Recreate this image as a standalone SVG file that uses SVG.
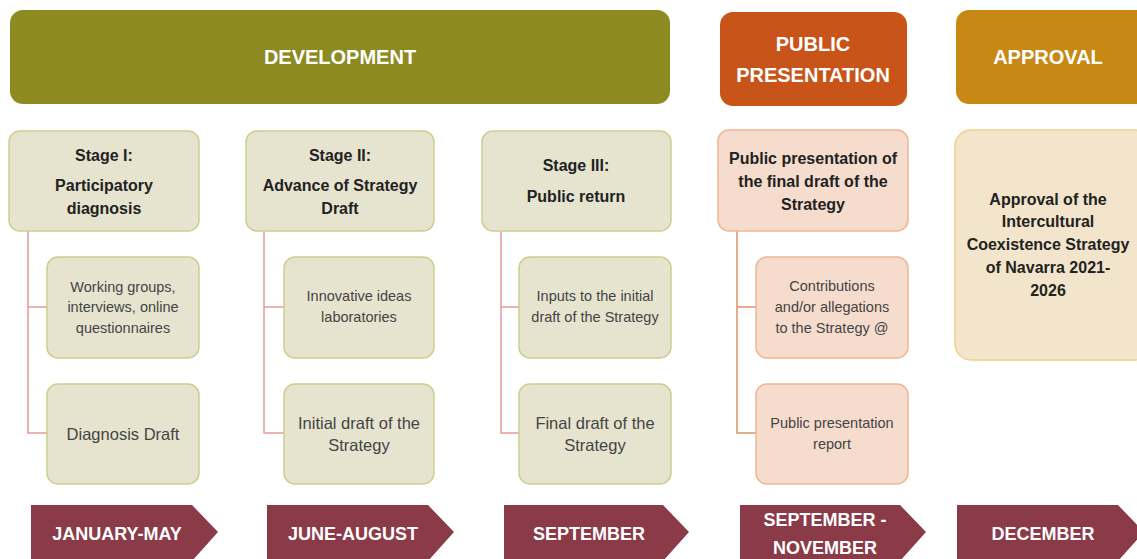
<svg xmlns="http://www.w3.org/2000/svg" width="1137" height="559" viewBox="0 0 1137 559">
  <style>
    text { font-family: "Liberation Sans", Arial, sans-serif; text-anchor: middle; }
    .hdr { fill: #ffffff; font-weight: bold; font-size: 20px; }
    .stagebox { fill: #e6e4cf; stroke: #cfcd8e; stroke-width: 1.5; }
    .pubbox { fill: #f6dccd; stroke: #f0b592; stroke-width: 1.5; }
    .appbox { fill: #f3e5cb; stroke: #f0d08a; stroke-width: 1.5; }
    .title { fill: #222222; font-weight: bold; font-size: 16px; }
    .item { fill: #444444; font-size: 14.5px; }
    .item-lg { fill: #444444; font-size: 16.5px; }
    .month { fill: #8b3a47; }
    .mtext { fill: #ffffff; font-weight: bold; font-size: 18px; }
    .conn { fill: none; stroke-width: 1.5; }
  </style>

  <!-- phase banners -->
  <g id="phase-development">
    <rect x="10" y="10" width="660" height="94" rx="13" fill="#8c8a20"/>
    <text class="hdr" x="340" y="64">DEVELOPMENT</text>
  </g>
  <g id="phase-public">
    <rect x="720" y="12" width="187" height="94" rx="13" fill="#c8541a"/>
    <text class="hdr" x="813" y="51">PUBLIC</text>
    <text class="hdr" x="813" y="82">PRESENTATION</text>
  </g>
  <g id="phase-approval">
    <rect x="956" y="10" width="195" height="94" rx="13" fill="#c78914"/>
    <text class="hdr" x="1048" y="64">APPROVAL</text>
  </g>

  <!-- connectors from stage boxes to their activities -->
  <g id="connectors">
    <path class="conn" stroke="#e79a9a" d="M28 231 V433 H47 M28 307 H47"/>
    <path class="conn" stroke="#e79a9a" d="M264 231 V433 H284 M264 307 H284"/>
    <path class="conn" stroke="#e79a9a" d="M501 231 V433 H519 M501 307 H519"/>
    <path class="conn" stroke="#e0906a" d="M737 231 V433 H756 M737 307 H756"/>
  </g>

  <!-- Stage I -->
  <g id="stage1">
    <rect class="stagebox" x="9" y="131" width="190" height="100" rx="11"/>
    <text class="title" x="104" y="161">Stage I:</text>
    <text class="title" x="104" y="191">Participatory</text>
    <text class="title" x="104" y="214">diagnosis</text>
  </g>
  <g id="stage1-groups">
    <rect class="stagebox" x="47" y="257" width="152" height="101" rx="11"/>
    <text class="item" x="123" y="292">Working groups,</text>
    <text class="item" x="123" y="312">interviews, online</text>
    <text class="item" x="123" y="333">questionnaires</text>
  </g>
  <g id="stage1-draft">
    <rect class="stagebox" x="47" y="384" width="152" height="100" rx="11"/>
    <text class="item-lg" x="123" y="440">Diagnosis Draft</text>
  </g>

  <!-- Stage II -->
  <g id="stage2">
    <rect class="stagebox" x="246" y="131" width="188" height="100" rx="11"/>
    <text class="title" x="340" y="161">Stage II:</text>
    <text class="title" x="340" y="191">Advance of Strategy</text>
    <text class="title" x="340" y="214">Draft</text>
  </g>
  <g id="stage2-labs">
    <rect class="stagebox" x="284" y="257" width="150" height="101" rx="11"/>
    <text class="item" x="359" y="301">Innovative ideas</text>
    <text class="item" x="359" y="322">laboratories</text>
  </g>
  <g id="stage2-draft">
    <rect class="stagebox" x="284" y="384" width="150" height="100" rx="11"/>
    <text class="item-lg" x="359" y="429">Initial draft of the</text>
    <text class="item-lg" x="359" y="451">Strategy</text>
  </g>

  <!-- Stage III -->
  <g id="stage3">
    <rect class="stagebox" x="482" y="131" width="189" height="100" rx="11"/>
    <text class="title" x="576" y="171">Stage III:</text>
    <text class="title" x="576" y="202">Public return</text>
  </g>
  <g id="stage3-inputs">
    <rect class="stagebox" x="519" y="257" width="152" height="101" rx="11"/>
    <text class="item" x="595" y="301">Inputs to the initial</text>
    <text class="item" x="595" y="322">draft of the Strategy</text>
  </g>
  <g id="stage3-draft">
    <rect class="stagebox" x="519" y="384" width="152" height="100" rx="11"/>
    <text class="item-lg" x="595" y="429">Final draft of the</text>
    <text class="item-lg" x="595" y="451">Strategy</text>
  </g>

  <!-- Public presentation -->
  <g id="public">
    <rect class="pubbox" x="718" y="130" width="190" height="101" rx="11"/>
    <text class="title" x="813" y="164">Public presentation of</text>
    <text class="title" x="813" y="187">the final draft of the</text>
    <text class="title" x="813" y="210">Strategy</text>
  </g>
  <g id="public-contrib">
    <rect class="pubbox" x="756" y="257" width="152" height="101" rx="11"/>
    <text class="item" x="832" y="291">Contributions</text>
    <text class="item" x="832" y="312">and/or allegations</text>
    <text class="item" x="832" y="333">to the Strategy @</text>
  </g>
  <g id="public-report">
    <rect class="pubbox" x="756" y="384" width="152" height="100" rx="11"/>
    <text class="item" x="832" y="428">Public presentation</text>
    <text class="item" x="832" y="449">report</text>
  </g>

  <!-- Approval -->
  <g id="approval">
    <rect class="appbox" x="955" y="130" width="195" height="230" rx="16"/>
    <text class="title" x="1048" y="205">Approval of the</text>
    <text class="title" x="1048" y="227">Intercultural</text>
    <text class="title" x="1048" y="250">Coexistence Strategy</text>
    <text class="title" x="1048" y="273">of Navarra 2021-</text>
    <text class="title" x="1048" y="296">2026</text>
  </g>

  <!-- timeline tags -->
  <g id="month-jan-may">
    <polygon class="month" points="31,505 192,505 218,532 192,561 31,561"/>
    <text class="mtext" x="117" y="540">JANUARY-MAY</text>
  </g>
  <g id="month-jun-aug">
    <polygon class="month" points="267,505 428,505 454,532 428,561 267,561"/>
    <text class="mtext" x="353" y="540">JUNE-AUGUST</text>
  </g>
  <g id="month-sep">
    <polygon class="month" points="504,505 663,505 689,532 663,561 504,561"/>
    <text class="mtext" x="589" y="540">SEPTEMBER</text>
  </g>
  <g id="month-sep-nov">
    <polygon class="month" points="740,505 900,505 926,532 900,561 740,561"/>
    <text class="mtext" x="825" y="526">SEPTEMBER -</text>
    <text class="mtext" x="825" y="554">NOVEMBER</text>
  </g>
  <g id="month-dec">
    <polygon class="month" points="957,505 1118,505 1144,532 1118,561 957,561"/>
    <text class="mtext" x="1043" y="540">DECEMBER</text>
  </g>
</svg>
